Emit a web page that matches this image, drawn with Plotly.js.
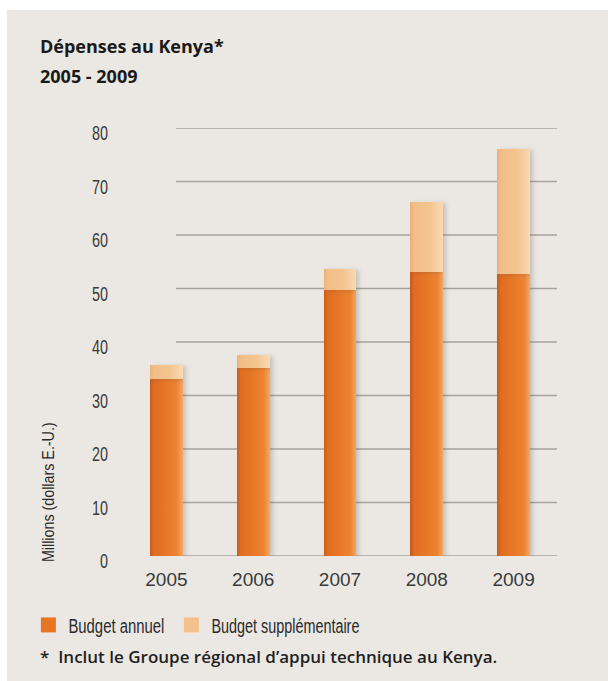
<!DOCTYPE html>
<html>
<head>
<meta charset="utf-8">
<script src="https://cdn.plot.ly/plotly-3.0.1.min.js"></script>
<style>
  html, body { margin: 0; padding: 0; background: #ffffff; }
  #chart { position: absolute; left: 7px; top: 10px; width: 601px; height: 671px; }
</style>
</head>
<body>
<div id="chart"></div>
<script>
const years = ["2005", "2006", "2007", "2008", "2009"];
const budgetAnnuel = [33.1, 35.1, 49.7, 53.1, 52.7];
const budgetSupplementaire = [2.6, 2.5, 3.9, 13.1, 23.4];
const yTicks = [0, 10, 20, 30, 40, 50, 60, 70, 80];

const sans = "Liberation Sans, Arial, sans-serif";

const traces = [
  {
    type: "bar", name: "Budget annuel", x: years, y: budgetAnnuel,
    marker: { color: "#e67524", line: { width: 0 } }
  },
  {
    type: "bar", name: "Budget supplémentaire", x: years, y: budgetSupplementaire,
    marker: { color: "#f3c28c", line: { width: 0 } }
  }
];

const gridShapes = yTicks.map(v => ({
  type: "line", xref: "paper", yref: "y", x0: 0.122, x1: 1, y0: v, y1: v,
  line: { color: "#a8a29c", width: 1.5 }, layer: "below"
}));

const layout = {
  width: 601, height: 671,
  margin: { l: 116, r: 51, t: 118, b: 125 },
  paper_bgcolor: "#ebe8e4",
  plot_bgcolor: "rgba(0,0,0,0)",
  barmode: "stack",
  bargap: 0.62,
  showlegend: true,
  title: {
    text: "<b>Dépenses au Kenya*</b>",
    xref: "container", yref: "container",
    x: 0.0549, xanchor: "left", y: 0.946, yanchor: "middle",
    font: { family: "Open Sans, sans-serif", size: 18, color: "#1a1a1a" }
  },
  xaxis: {
    type: "category",
    showgrid: false, zeroline: false, showline: false,
    ticks: "outside", ticklen: 6, tickcolor: "rgba(0,0,0,0)",
    tickfont: { family: sans, size: 19, color: "#3a3a3a" }
  },
  yaxis: {
    range: [0, 80],
    tickvals: yTicks,
    showgrid: false, zeroline: false, showline: false,
    ticks: "outside", ticklen: 10, tickcolor: "rgba(0,0,0,0)",
    ticklabelshift: 5,
    tickfont: { family: sans, size: 20, color: "#3a3a3a" }
  },
  shapes: gridShapes,
  legend: {
    orientation: "h",
    x: -0.218, xanchor: "left",
    y: -0.161, yanchor: "middle",
    traceorder: "normal",
    entrywidth: 98,
    font: { family: sans, size: 20, color: "#2a2a2a" },
    bgcolor: "rgba(0,0,0,0)"
  },
  annotations: [
    {
      text: "Millions (dollars E.-U.)",
      xref: "paper", yref: "paper",
      x: -0.173, xanchor: "center",
      y: -0.05, yanchor: "bottom",
      textangle: -90, showarrow: false,
      font: { family: sans, size: 17, color: "#2a2a2a" }
    },
    {
      text: "*  Inclut le Groupe régional d’appui technique au Kenya.",
      xref: "paper", yref: "paper",
      x: -0.196, xanchor: "left",
      y: -0.234, yanchor: "middle",
      showarrow: false,
      font: { family: "Open Sans, sans-serif", size: 17, weight: 600, color: "#1f1f1f" }
    },
    {
      text: "<b>2005 - 2009</b>",
      xref: "paper", yref: "paper",
      x: -0.196, xanchor: "left",
      y: 1.121, yanchor: "middle",
      showarrow: false,
      font: { family: "Open Sans, sans-serif", size: 18, color: "#1a1a1a" }
    }
  ]
};

// pixel widths of the narrow lettering in the original
const legendTextWidths = { "Budget annuel": 96, "Budget supplémentaire": 148 };

function condense(nodes, factor) {
  nodes.forEach(t => {
    if (t.dataset.condensed) return;
    const w = t.getComputedTextLength();
    if (w > 0) {
      t.setAttribute("textLength", (w * factor).toFixed(1));
      t.setAttribute("lengthAdjust", "spacingAndGlyphs");
      t.dataset.condensed = "1";
    }
  });
}

function styleChart(gd) {
  condense(gd.querySelectorAll(".ytick text"), 0.72);
  condense(gd.querySelectorAll('.annotation[data-index="0"] text'), 0.84);
  gd.querySelectorAll(".legendtext").forEach(t => {
    const target = legendTextWidths[t.textContent.trim()];
    if (target) {
      t.setAttribute("textLength", target);
      t.setAttribute("lengthAdjust", "spacingAndGlyphs");
    }
  });
  gd.querySelectorAll(".legend .scrollbox, .legend .bg").forEach(el => el.removeAttribute("clip-path"));
  gd.querySelectorAll(".legendpoints path").forEach(p => {
    p.setAttribute("transform", "translate(20,0) scale(1.25)");
  });

  const svg = gd.querySelector(".main-svg");
  const ns = "http://www.w3.org/2000/svg";
  let defs = svg.querySelector("defs");
  if (!defs) { defs = document.createElementNS(ns, "defs"); svg.prepend(defs); }
  function grad(id, stops) {
    if (svg.querySelector("#" + id)) return;
    const g = document.createElementNS(ns, "linearGradient");
    g.setAttribute("id", id);
    g.setAttribute("x1", "0"); g.setAttribute("x2", "1");
    g.setAttribute("y1", "0"); g.setAttribute("y2", "0");
    stops.forEach(([o, c]) => {
      const s = document.createElementNS(ns, "stop");
      s.setAttribute("offset", o); s.setAttribute("stop-color", c);
      g.appendChild(s);
    });
    defs.appendChild(g);
  }
  grad("gradAnnuel", [["0", "#c65a1c"], ["0.12", "#e06d22"], ["0.5", "#e87828"], ["0.82", "#ec8432"], ["1", "#f4a964"]]);
  grad("gradSupp", [["0", "#eab07a"], ["0.12", "#f2be88"], ["0.6", "#f4c48f"], ["1", "#f9dab4"]]);
  const fills = ["url(#gradAnnuel)", "url(#gradSupp)"];
  gd.querySelectorAll(".cartesianlayer .barlayer .trace").forEach((tg, i) => {
    tg.querySelectorAll("path").forEach(p => {
      p.style.fill = fills[i];
      p.style.filter = "drop-shadow(3px 1px 2px rgba(90,80,70,0.25))";
    });
  });
}

Plotly.newPlot("chart", traces, layout, { staticPlot: true, displayModeBar: false }).then(gd => {
  styleChart(gd);
  gd.on("plotly_afterplot", () => styleChart(gd));
  requestAnimationFrame(() => styleChart(gd));
  setTimeout(() => styleChart(gd), 30);
  setTimeout(() => styleChart(gd), 200);
});
</script>
</body>
</html>
